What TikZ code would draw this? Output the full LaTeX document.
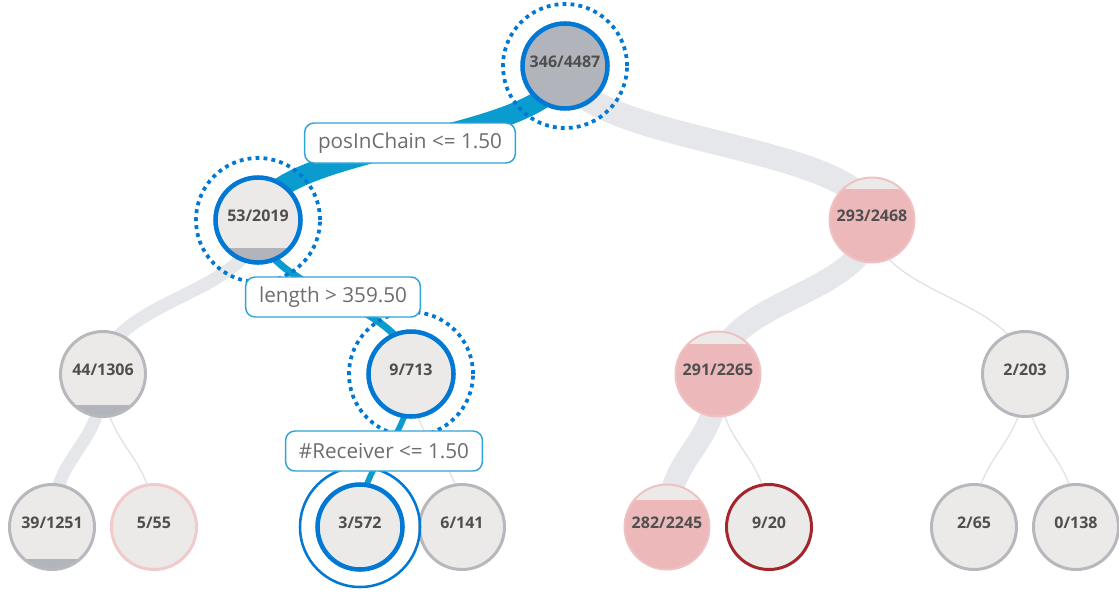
\documentclass[tikz,border=0pt]{standalone}
\usepackage{fontspec}
\setmainfont{Open Sans}
\usepackage{xcolor}
\usetikzlibrary{calc,backgrounds}

\definecolor{nodefill}{HTML}{ECEAE9}
\definecolor{segray}{HTML}{B1B4BB}
\definecolor{ringgray}{HTML}{B6B8BD}
\definecolor{pinkfill}{HTML}{ECB8B9}
\definecolor{pinkring}{HTML}{EEC2C3}
\definecolor{paleping}{HTML}{F1CACB}
\definecolor{darkred}{HTML}{A4262C}
\definecolor{ringblue}{HTML}{0078D4}
\definecolor{flowblue}{HTML}{0A9CCF}
\definecolor{flowgray}{HTML}{E6E7EB}
\definecolor{thingray}{HTML}{E2E2E4}
\definecolor{splitline}{HTML}{31A4D6}
\definecolor{splittext}{HTML}{6D6D6D}
\definecolor{nodetext}{HTML}{4F4F4F}

\tikzset{
  stat/.style={circle, minimum size=63.75pt, inner sep=0pt, line width=2.25pt,
    fill=nodefill, text=nodetext, font=\bfseries\fontsize{12}{12}\selectfont,
    text height=9pt, text depth=7.5pt},
  onpath/.style={stat, draw=ringblue, line width=3.4pt},
  grayring/.style={stat, draw=ringgray},
  pinknode/.style={stat, fill=pinkfill, draw=pinkring, line width=1.5pt},
  lowseg/.style={path picture={\fill[segray] (path picture bounding box.south west)
    rectangle ([yshift=#1]path picture bounding box.south east);}},
  topseg/.style={path picture={\fill[nodefill] (path picture bounding box.north west)
    rectangle ([yshift=-#1]path picture bounding box.north east);}},
  link/.style={to path={.. controls ($(\tikztostart)!.5!(\tikztostart|-\tikztotarget)$)
    and ($(\tikztotarget)!.5!(\tikztotarget|-\tikztostart)$) .. (\tikztotarget)}},
  flow/.style={draw=flowgray, line width=#1},
  hot/.style={draw=flowblue, line width=#1},
  thin/.style={draw=thingray, line width=1pt},
  halo/.style={draw=ringblue, line width=2.8pt, dash pattern=on 2.9pt off 3.1pt},
  split/.style={draw=splitline, line width=1.1pt, fill=white, rounded corners=7pt,
    text=splittext, font=\fontsize{15.5}{15.5}\selectfont, minimum height=30pt,
    inner xsep=10pt}
}

\begin{document}
\begin{tikzpicture}[x=0.75pt, y=-0.75pt]
\useasboundingbox (0,0) rectangle (1119,593);

% Root
\node[onpath, fill=segray] (t) at (565,66) {346/4487};

% First split
\node[onpath, lowseg=10.9pt] (tL) at (258,220) {53/2019};
\node[pinknode, topseg=8.6pt] (tR) at (872,220) {293/2468};

% Second split
\node[grayring, lowseg=8.6pt] (tLL) at (103,374) {44/1306};
\node[onpath] (tLR) at (411,374) {9/713};
\node[pinknode, topseg=9.4pt] (tRL) at (718,374) {291/2265};
\node[grayring] (tRR) at (1025,374) {2/203};

% Leaves
\node[grayring, lowseg=7.9pt] (tLLL) at (52,527) {39/1251};
\node[stat, draw=paleping] (tLLR) at (154,527) {5/55};
\node[onpath] (tLRL) at (360,527) {3/572};
\node[grayring] (tLRR) at (462,527) {6/141};
\node[pinknode, topseg=11.6pt] (tRLL) at (667,527) {282/2245};
\node[stat, draw=darkred] (tRLR) at (769,527) {9/20};
\node[grayring] (tRRL) at (974,527) {2/65};
\node[grayring] (tRRR) at (1076,527) {0/138};

% Flows, behind the nodes
\begin{scope}[on background layer]
\draw[flow=18.5pt] (t.center) to[link] (tR.center);
\draw[hot=15pt] (t.center) to[link] (tL.center);
\draw[flow=9.8pt] (tL.center) to[link] (tLL.center);
\draw[hot=5.3pt] (tL.center) to[link] (tLR.center);
\draw[flow=17pt] (tR.center) to[link] (tRL.center);
\draw[thin] (tR.center) to[link] (tRR.center);
\draw[flow=9.4pt] (tLL.center) to[link] (tLLL.center);
\draw[thin] (tLL.center) to[link] (tLLR.center);
\draw[hot=4.3pt] (tLR.center) to[link] (tLRL.center);
\draw[thin] (tLR.center) to[link] (tLRR.center);
\draw[flow=16.8pt] (tRL.center) to[link] (tRLL.center);
\draw[thin] (tRL.center) to[link] (tRLR.center);
\draw[thin] (tRR.center) to[link] (tRRL.center);
\draw[thin] (tRR.center) to[link] (tRRR.center);
\end{scope}

% Selected path rings
\draw[halo] (t) circle[radius=46.5pt];
\draw[halo] (tL) circle[radius=46.5pt];
\draw[halo] (tLR) circle[radius=46.5pt];
\draw[ringblue, line width=1.9pt] (tLRL) circle[radius=45pt];

% Split conditions
\node[split] (c1) at (410,143) {posInChain <= 1.50};
\node[split] (c2) at (333,297) {length > 359.50};
\node[split] (c3) at (384,451) {\#Receiver <= 1.50};
\end{tikzpicture}
\end{document}
